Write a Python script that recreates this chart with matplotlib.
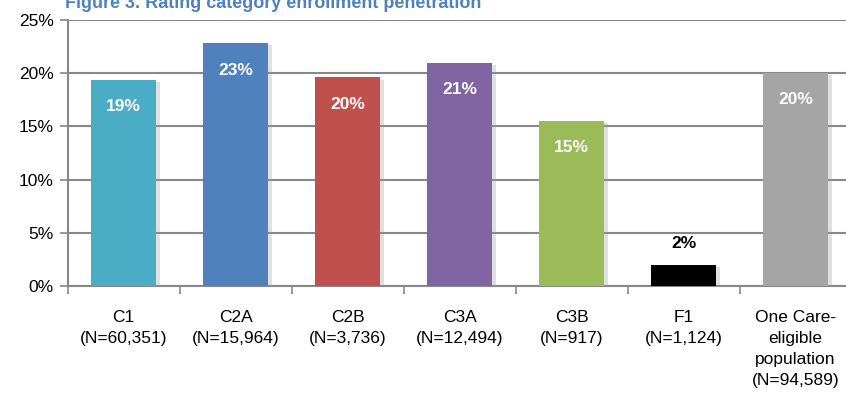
import numpy as np
import matplotlib
matplotlib.use("Agg")
import matplotlib.pyplot as plt
import matplotlib.patheffects as pe

plt.rcParams['font.family'] = ['Liberation Sans', 'DejaVu Sans']

# data
categories = ["C1\n(N=60,351)", "C2A\n(N=15,964)", "C2B\n(N=3,736)", "C3A\n(N=12,494)",
              "C3B\n(N=917)", "F1\n(N=1,124)", "One Care-\neligible\npopulation\n(N=94,589)"]
values = [19.4, 22.8, 19.6, 21.0, 15.5, 2.0, 20.0]
labels = ["19%", "23%", "20%", "21%", "15%", "2%", "20%"]
colors = ["#4BACC6", "#4F81BD", "#C0504D", "#8064A2", "#9BBB59", "#000000", "#A5A5A5"]

fig = plt.figure(figsize=(8.46, 4.0), dpi=100)
ax = fig.add_axes([67.5/846, 114/400, 784/846, 266/400])

x = np.arange(len(values))
shadow = [pe.SimplePatchShadow(offset=(3, -1.5), shadow_rgbFace='#999999', alpha=0.3), pe.Normal()]
bars = ax.bar(x, values, width=0.58, color=colors, zorder=3)
for b in bars:
    b.set_path_effects(shadow)

for i, b in enumerate(bars):
    if values[i] < 5:
        ax.text(b.get_x()+b.get_width()/2, values[i]+1.3, labels[i], ha='center', va='bottom',
                fontsize=12.5, fontweight='bold', color='black', zorder=4)
    else:
        ax.text(b.get_x()+b.get_width()/2, values[i]-2.5, labels[i], ha='center', va='center',
                fontsize=12.5, fontweight='bold', color='white', zorder=4)

ax.set_xlim(-0.5, len(values)-0.5)
ax.set_ylim(0, 25)
ax.set_yticks(np.arange(0, 26, 5))
ax.set_yticklabels([f"{v}%" for v in range(0, 26, 5)], fontsize=12.5)
ax.set_xticks(np.arange(len(values)+1)-0.5, minor=False)
ax.set_xticklabels([])
ax.set_xticks(x, minor=True)
ax.set_xticklabels(categories, minor=True, fontsize=12.5, linespacing=1.5)
ax.tick_params(axis='x', which='minor', length=0, pad=17)
ax.tick_params(axis='x', which='major', length=6, width=1.2, color='#888888', direction='out')
ax.tick_params(axis='y', length=6, width=1.2, color='#888888', direction='out', pad=4)

ax.grid(axis='y', color='#888888', linewidth=1.5, zorder=0)
for s in ['top', 'right']:
    ax.spines[s].set_visible(False)
for s in ['left', 'bottom']:
    ax.spines[s].set_color('#888888')
    ax.spines[s].set_linewidth(1.5)

fig.text(65/846, 1-8/400, "Figure 3. Rating category enrollment penetration", ha='left', va='baseline',
         fontsize=13, fontweight='bold', color='#4F81BD')

fig.savefig("out.png", dpi=100)
